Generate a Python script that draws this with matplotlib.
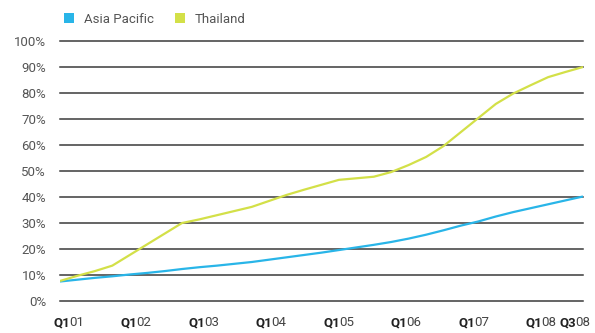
import matplotlib
matplotlib.use("Agg")
import matplotlib.pyplot as plt
from matplotlib.patches import Patch
from matplotlib.transforms import blended_transform_factory, offset_copy

quarters = [f"Q{q} {y:02d}" for y in range(1, 9) for q in range(1, 5)][:31]
asia_pacific = [7.5, 8.2, 8.9, 9.5, 10.2, 10.8, 11.5, 12.3, 13.0, 13.6, 14.3,
                15.0, 15.9, 16.8, 17.7, 18.6, 19.6, 20.6, 21.6, 22.7, 24.0,
                25.5, 27.2, 29.0, 30.6, 32.5, 34.2, 35.7, 37.2, 38.7, 40.2]
thailand = [7.7, 9.7, 11.5, 13.6, 17.7, 21.8, 25.9, 30.0, 31.4, 33.0, 34.6,
            36.2, 38.5, 40.8, 42.8, 44.7, 46.6, 47.2, 47.8, 49.6, 52.3,
            55.4, 59.6, 65.0, 70.4, 75.8, 79.8, 83.0, 86.1, 88.1, 90.0]
series_names = ["Asia Pacific", "Thailand"]
colors = ["#29b5e8", "#d3e048"]
label_quarters = ["Q1 01", "Q1 02", "Q1 03", "Q1 04", "Q1 05", "Q1 06",
                  "Q1 07", "Q1 08", "Q3 08"]
yticks = list(range(0, 101, 10))

plt.rcParams['font.family'] = ['Roboto', 'DejaVu Sans']

fig = plt.figure(figsize=(5.95, 3.33), dpi=100)
ax = fig.add_axes([60 / 595, (333 - 301) / 333, 523 / 595, 260 / 333])

x = list(range(len(quarters)))
ax.plot(x, asia_pacific, color=colors[0], lw=1.6, zorder=3, solid_capstyle='butt')
ax.plot(x, thailand, color=colors[1], lw=1.6, zorder=3, solid_capstyle='butt')

ax.set_xlim(0, len(quarters) - 1)
ax.set_ylim(0, 100)
ax.set_yticks(yticks)
ax.set_yticklabels([f"{v}%" for v in yticks], fontsize=9.5, color="#555555")
ax.tick_params(axis='y', length=0, pad=10)
ax.set_xticks([])
for s in ax.spines.values():
    s.set_visible(False)
ax.yaxis.grid(True, color="#3a3a3a", lw=1.1)
ax.set_axisbelow(True)
for gl in ax.get_ygridlines():
    gl.set_clip_on(False)

n = len(quarters)
trans = blended_transform_factory(ax.transData, ax.transAxes)
for lab in label_quarters:
    k = quarters.index(lab)
    pos = (k + 0.5) * (n - 1) / n
    q, yr = lab.split(" ")
    ax.text(pos, 0, q, transform=offset_copy(trans, fig=fig, x=1.5, y=-15, units='dots'),
            ha='right', va='top', fontsize=9.5, fontweight='bold', color="#222222")
    ax.text(pos, 0, yr, transform=offset_copy(trans, fig=fig, x=0.5, y=-15, units='dots'),
            ha='left', va='top', fontsize=9.5, color="#444444")

handles = [Patch(facecolor=c, edgecolor='none') for c in colors]
fig.legend(handles, series_names, loc='upper left', bbox_to_anchor=(52 / 595, 1 - 1 / 333),
           ncol=2, frameon=False, fontsize=9.5, handlelength=0.8, handleheight=0.8,
           handletextpad=0.7, columnspacing=1.6, labelcolor="#555555")

fig.savefig("out.png", dpi=100)
